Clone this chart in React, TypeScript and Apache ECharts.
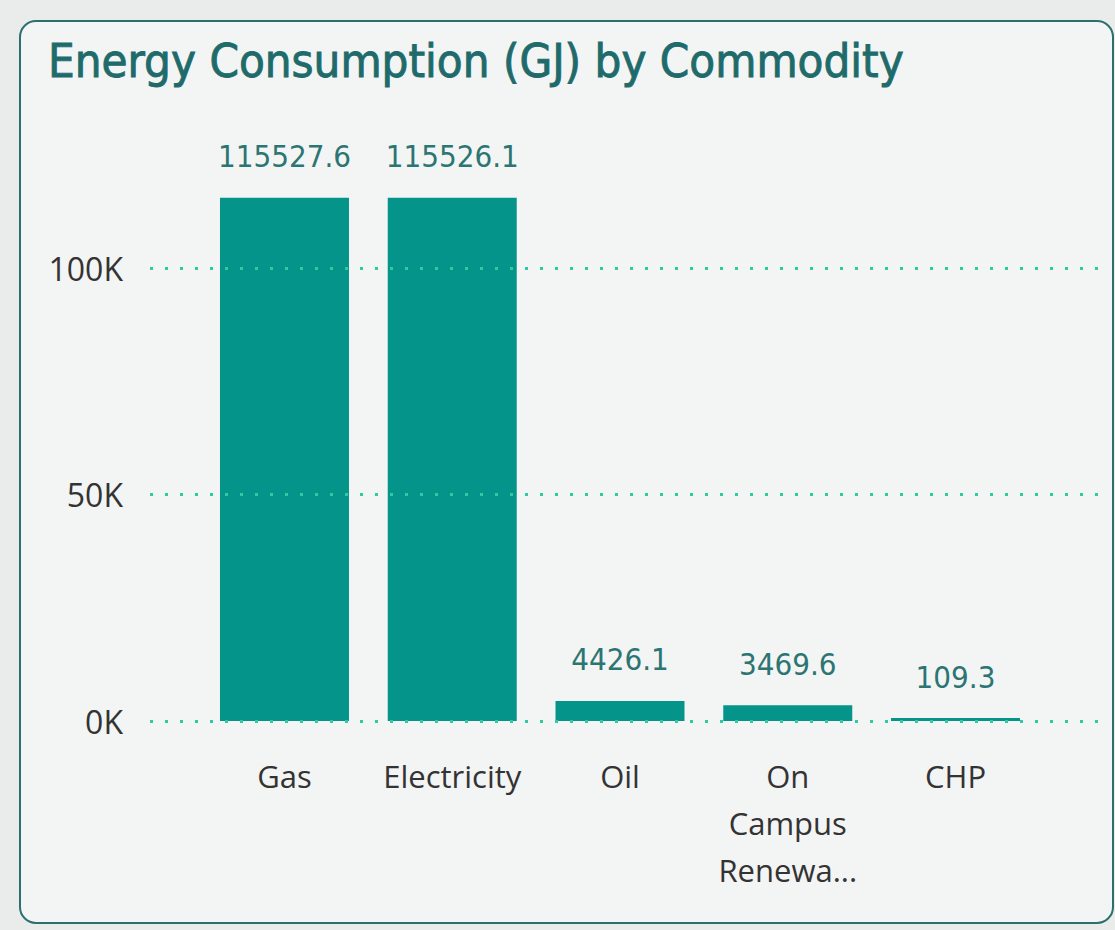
import React, { useEffect, useRef } from "react";
import * as echarts from "echarts";

const categories = ["Gas", "Electricity", "Oil", "On Campus Renewables", "CHP"];
const consumption = [115527.6, 115526.1, 4426.1, 3469.6, 109.3];
const gridTicks = [0, 50000, 100000];
const titleText = "Energy Consumption (GJ) by Commodity";

const DIN = "'DejaVu Sans Condensed', 'Liberation Sans Narrow', 'DejaVu Sans', sans-serif";
const UI = "'Open Sans', 'Noto Sans', sans-serif";

export default function App() {
  const ref = useRef<HTMLDivElement>(null);
  useEffect(() => {
    if (!ref.current) return;
    const chart = echarts.init(ref.current, null, { renderer: "svg" });
    const yTop = 41.5;
    const yBottom = 930 - 721;
    chart.setOption({
      animation: false,
      backgroundColor: "#e9ecea",
      graphic: [
        {
          type: "rect",
          z: -10,
          shape: { x: 20, y: 21, width: 1093, height: 902, r: 16 },
          style: { fill: "#f3f4f4", stroke: "#2d6f6c", lineWidth: 2 },
          silent: true,
        },
      ],
      title: {
        text: titleText,
        left: 43,
        top: 32,
        textStyle: {
          fontFamily: DIN,
          fontSize: 47,
          fontWeight: "normal",
          color: "#1f6b6b",
          textBorderColor: "#1f6b6b",
          textBorderWidth: 0.9,
        },
      },
      grid: [
        { left: 150, right: 16, top: yTop, bottom: yBottom },
        { left: 200.6, right: 75.6, top: yTop, bottom: yBottom },
      ],
      xAxis: [
        { gridIndex: 0, type: "value", min: 0, max: 1, show: false },
        {
          gridIndex: 1,
          type: "category",
          data: categories,
          axisLine: { show: false },
          axisTick: { show: false },
          axisLabel: {
            interval: 0,
            margin: 31,
            fontFamily: UI,
            fontSize: 31,
            lineHeight: 47,
            color: "#333333",
            width: 146,
            overflow: "truncate",
            ellipsis: "...",
            formatter: (v: string) => v.split(" ").join("\n"),
          },
        },
      ],
      yAxis: [
        {
          gridIndex: 0,
          type: "value",
          min: 0,
          max: 150000,
          interval: 50000,
          axisLine: { show: false },
          axisTick: { show: false },
          splitLine: { show: false },
          axisLabel: {
            margin: 27,
            fontFamily: UI,
            fontSize: 32,
            color: "#333333",
            formatter: (v: number) => (v >= 150000 ? "" : `${v / 1000}K`),
          },
        },
        {
          gridIndex: 1,
          type: "value",
          min: 0,
          max: 150000,
          interval: 50000,
          show: false,
          splitLine: { show: false },
        },
      ],
      series: [
        {
          type: "line",
          xAxisIndex: 0,
          yAxisIndex: 0,
          data: [],
          silent: true,
          z: 1,
          markLine: {
            silent: true,
            symbol: "none",
            label: { show: false },
            lineStyle: { type: [3, 12], color: "#2fc9a2", width: 3, opacity: 1 },
            emphasis: { disabled: true },
            data: gridTicks.map((v) => ({ yAxis: v })),
          },
        },
        {
          type: "bar",
          xAxisIndex: 1,
          yAxisIndex: 1,
          data: consumption,
          barWidth: 129,
          barMinHeight: 3,
          z: 2,
          itemStyle: { color: "#05948a" },
          label: {
            show: true,
            position: "top",
            distance: 26,
            fontFamily: DIN,
            fontSize: 31,
            color: "#2b7573",
            formatter: (p: any) => p.value.toFixed(1),
          },
        },
      ],
    });
    return () => chart.dispose();
  }, []);
  return (
    <div
      ref={ref}
      style={{ position: "fixed", left: 0, top: 0, width: 1115, height: 930 }}
    />
  );
}
